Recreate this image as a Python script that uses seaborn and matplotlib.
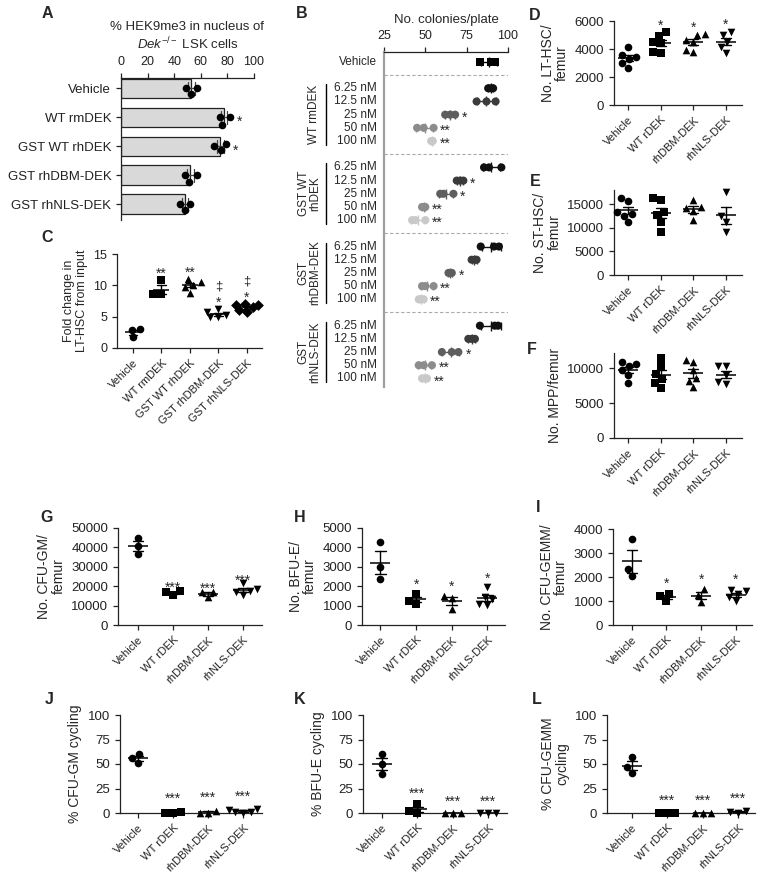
import numpy as np
import pandas as pd
import matplotlib
matplotlib.use("Agg")
from matplotlib import pyplot as plt
from matplotlib import transforms
import seaborn as sns

# ---- panel A: % H3K9me3 in nucleus ----
a_groups = ["Vehicle", "WT rmDEK", "GST WT rhDEK", "GST rhDBM-DEK", "GST rhNLS-DEK"]
a_values = [[49, 53, 57], [74.5, 82, 76], [70, 75, 79], [48, 51, 57], [44, 48, 52]]
a_stars = ["", "*", "*", "", ""]

# ---- panel B: colonies/plate by dose ----
b_conc = ["6.25 nM", "12.5 nM", "25 nM", "50 nM", "100 nM"]
b_groups = ["WT rmDEK", "GST WT\nrhDEK", "GST\nrhDBM-DEK", "GST\nrhNLS-DEK"]
b_shades = ["#111111", "#3b3b3b", "#5e5e5e", "#8c8c8c", "#c9c9c9"]
b_vehicle = [83, 90, 92]
b_wt_rm = [[88, 89.5, 91], [81, 87, 92.5], [62, 65, 68], [45, 49, 55], [53.5, 54, 54.5]]
b_gst_wt = [[85.5, 88.5, 96], [69, 71, 73], [59, 61, 67], [48, 49, 50], [42, 44, 50]]
b_dbm = [[83.5, 91.5, 94.5], [78, 80, 81], [64, 65, 66], [48, 50, 55], [46, 47.5, 49]]
b_nls = [[83, 92, 94], [76, 78, 80], [60, 66, 70], [46, 49, 54], [48, 49.5, 51]]
b_stars = [["", "", "*", "**", "**"], ["", "*", "*", "**", "**"],
           ["", "", "*", "**", "**"], ["", "", "*", "**", "**"]]

# ---- panel C: fold change LT-HSC ----
c_groups = ["Vehicle", "WT rmDEK", "GST WT rhDEK", "GST rhDBM-DEK", "GST rhNLS-DEK"]
c_values = [[3.0, 2.9, 1.7], [10.8, 8.6, 8.6], [11.0, 10.5, 10.1, 9.8, 8.8],
            [6.2, 5.7, 5.3, 5.0, 4.9], [7.0, 6.9, 6.8, 6.5, 6.0, 5.8]]
c_stars = ["", "**", "**", "*", "*"]
c_daggers = ["", "", "", "\u2021", "\u2021"]

# ---- panels D-L ----
dek_groups = ["Vehicle", "WT rDEK", "rhDBM-DEK", "rhNLS-DEK"]
d_values = [[4120, 3570, 3450, 3260, 2980, 2620], [5190, 4930, 4520, 4400, 3810, 3690],
            [5050, 5000, 4640, 4500, 3930, 3810], [5240, 5000, 4520, 4170, 3740]]
e_values = [[16400, 15700, 13300, 12900, 12600, 11200], [16300, 15800, 13300, 12700, 11300, 9200],
            [15900, 14300, 14100, 13600, 11600], [17600, 12600, 11300, 9100]]
f_values = [[10900, 10600, 10300, 9700, 9000, 7900], [11500, 10300, 9200, 8400, 7900, 7200],
            [11200, 10900, 9700, 8600, 8200, 7300], [10400, 10300, 9000, 8000, 7800]]
g_values = [[45000, 40500, 36500], [17500, 16800, 15300], [17200, 16800, 14300],
            [21500, 18500, 17500, 17000, 15500]]
h_values = [[4300, 3000, 2350], [1600, 1250, 1100], [1500, 1400, 850],
            [1950, 1450, 1350, 1100, 1050]]
i_values = [[3600, 2330, 2040], [1300, 1200, 1000], [1480, 1250, 950],
            [1450, 1400, 1300, 1150, 1000]]
j_values = [[60, 56, 51], [1.5, 0.5, 0.5], [2.5, 0.5, 0.3], [4, 3, 1.5, 1, 0.5]]
k_values = [[60, 50, 40], [9, 2, 0.5], [0.3, 0.3, 0.3], [0.5, 0.3, 0.2]]
l_values = [[57, 47, 41], [0.3, 0.3, 0.3], [0.3, 0.3, 0.3], [2, 1, 0.5]]
one_star = ["", "*", "*", "*"]
three_stars = ["", "***", "***", "***"]

W, H = 767, 889
STAR_FS = 10

sns.set_style("ticks")
plt.rcParams.update({
    "font.family": ["Liberation Sans", "DejaVu Sans"],
    "font.size": 9,
    "axes.linewidth": 0.9,
    "axes.edgecolor": "#222222",
    "xtick.major.size": 3.5,
    "ytick.major.size": 3.5,
    "xtick.major.width": 0.9,
    "ytick.major.width": 0.9,
    "xtick.color": "#222222",
    "ytick.color": "#222222",
    "xtick.labelsize": 9,
    "ytick.labelsize": 9,
    "mathtext.fontset": "custom",
    "mathtext.rm": "Liberation Sans",
    "mathtext.it": "Liberation Sans:italic",
})


def add_ax(fig, left, top, right, bottom):
    return fig.add_axes([left / W, 1 - bottom / H, (right - left) / W, (bottom - top) / H])


def long_df(groups, values):
    return pd.DataFrame({
        "group": np.repeat(groups, [len(v) for v in values]),
        "value": np.concatenate(values),
    })


def dot_panel(ax, groups, values, markers, ylim, yticks, ylabel, xlim,
              stars=None, star_off=0.0, mean_w=14, tick_fs=9.5, label_fs=10):
    df = long_df(groups, values)
    for g, m in zip(groups, markers):
        sns.swarmplot(data=df[df.group == g], x="group", y="value", order=groups,
                      marker=m, color="black", size=5.5, ax=ax, clip_on=False)
    sns.pointplot(data=df, x="group", y="value", order=groups, errorbar="se",
                  capsize=0.3, color="black", marker="_", markersize=mean_w,
                  markeredgewidth=1.1, linestyle="none", linewidth=1.0,
                  err_kws={"linewidth": 1.0}, ax=ax)
    if stars:
        for i, (v, s) in enumerate(zip(values, stars)):
            if s:
                ax.text(i, max(v) + star_off, s, ha="center", va="center", fontsize=STAR_FS)
    ax.set_ylim(*ylim)
    ax.set_yticks(yticks)
    ax.set_xlim(*xlim)
    ax.set_xlabel("")
    ax.set_ylabel(ylabel, fontsize=label_fs, linespacing=1.05)
    ax.tick_params(axis="x", labelsize=8)
    ax.tick_params(axis="y", labelsize=tick_fs)
    for lbl in ax.get_xticklabels():
        lbl.set_rotation(45)
        lbl.set_ha("right")
        lbl.set_rotation_mode("anchor")
    sns.despine(ax=ax)


fig = plt.figure(figsize=(W / 100, H / 100), dpi=100)

# ---------- A ----------
ax = add_ax(fig, 121, 78, 254, 220)
df_a = long_df(a_groups, a_values)
sns.barplot(data=df_a, x="value", y="group", order=a_groups, orient="h", errorbar="se",
            capsize=0.45, color="#d9d9d9", saturation=1, edgecolor="#222222", linewidth=0.9,
            width=0.67, err_kws={"linewidth": 0.9, "color": "#444444"}, ax=ax)
sns.swarmplot(data=df_a, x="value", y="group", order=a_groups, orient="h",
              color="black", size=5.5, ax=ax)
for i, (v, s) in enumerate(zip(a_values, a_stars)):
    if s:
        ax.text(max(v) + 7, i + 0.15, s, ha="center", va="center", fontsize=STAR_FS)
ax.xaxis.tick_top()
ax.xaxis.set_label_position("top")
ax.set_xlim(0, 100)
ax.set_xticks(range(0, 101, 20))
ax.set_ylim(4.55, -0.36)
ax.set_ylabel("")
ax.set_xlabel("% HEK9me3 in nucleus of\n$\\it{Dek}^{-/-}$ LSK cells", fontsize=9.5, labelpad=5)
ax.tick_params(axis="y", labelsize=9.5)
ax.tick_params(axis="x", labelsize=9)
ax.spines["right"].set_visible(False)
ax.spines["bottom"].set_visible(False)

# ---------- B ----------
ax = add_ax(fig, 384, 52, 508, 387)
b_sets = [b_wt_rm, b_gst_wt, b_dbm, b_nls]
rows, vals, shades = [], [], []
for gi, group_vals in enumerate(b_sets):
    for ci, pts in enumerate(group_vals):
        r = 2 + 6 * gi + ci
        rows += [r] * len(pts)
        vals += pts
        shades += [b_conc[ci]] * len(pts)
df_b = pd.DataFrame({"row": rows, "value": vals, "conc": shades})
df_bv = pd.DataFrame({"row": [0] * len(b_vehicle), "value": b_vehicle})
stats = df_b.groupby("row")["value"].agg(["mean", "std"]).reset_index()
stats["conc"] = [b_conc[(r - 2) % 6] for r in stats["row"]]
vstats = df_bv["value"].agg(["mean", "std"])
ax.errorbar(vstats["mean"], 0, xerr=vstats["std"], fmt="|", color="black",
            capsize=3, markersize=7, elinewidth=1, zorder=2)
for _, st in stats.iterrows():
    c = b_shades[b_conc.index(st["conc"])]
    ax.errorbar(st["mean"], st["row"], xerr=st["std"], fmt="|", color=c,
                capsize=3, markersize=7, elinewidth=1, zorder=2)
sns.scatterplot(data=df_bv, x="value", y="row", marker="s", color="black", s=34,
                linewidth=0, ax=ax, zorder=3)
sns.scatterplot(data=df_b, x="value", y="row", hue="conc", hue_order=b_conc,
                palette=dict(zip(b_conc, b_shades)), s=34, linewidth=0, legend=False,
                ax=ax, zorder=3)
for gi, group_vals in enumerate(b_sets):
    for ci, pts in enumerate(group_vals):
        r = 2 + 6 * gi + ci
        s = b_stars[gi][ci]
        if s:
            edge = max(max(pts), np.mean(pts) + np.std(pts, ddof=1))
            ax.text(edge + 4, r + 0.22, s, ha="left", va="center", fontsize=STAR_FS)
for sep in [1, 7, 13, 19]:
    ax.axhline(sep, color="#aaaaaa", lw=0.8, ls=(0, (3, 2)))
tr = transforms.blended_transform_factory(ax.transAxes, ax.transData)
ax.text(-0.056, 0, "Vehicle", transform=tr, ha="right", va="center", fontsize=8.5)
for gi, gname in enumerate(b_groups):
    r0 = 2 + 6 * gi
    for ci, cname in enumerate(b_conc):
        ax.text(-0.056, r0 + ci, cname, transform=tr, ha="right", va="center", fontsize=8.5)
    ax.plot([-0.47, -0.47], [r0 - 0.3, r0 + 4.3], transform=tr, color="black",
            lw=1, clip_on=False)
    xpos = -0.6 if "\n" in gname else -0.565
    ax.text(xpos, r0 + 2, gname, transform=tr, rotation=90, ha="center", va="center",
            fontsize=8.5, linespacing=1.0, multialignment="center")
ax.set_xlim(25, 100)
ax.set_xticks([25, 50, 75, 100])
ax.set_ylim(24.65, -0.75)
ax.set_yticks([])
ax.set_ylabel("")
ax.xaxis.tick_top()
ax.xaxis.set_label_position("top")
ax.set_xlabel("No. colonies/plate", fontsize=9.5, labelpad=5)
ax.tick_params(axis="x", labelsize=9)
ax.spines["right"].set_visible(False)
ax.spines["bottom"].set_visible(False)
ax.spines["left"].set_color("#a0a0a0")
ax.spines["left"].set_linewidth(1.6)

# ---------- C ----------
ax = add_ax(fig, 117, 254, 262, 348)
dot_panel(ax, c_groups, c_values, ["o", "s", "^", "v", "D"], (0, 15), [0, 5, 10, 15],
          "Fold change in\nLT-HSC from input", (-0.56, 4.53), mean_w=12,
          tick_fs=9, label_fs=9)
for i, v in enumerate(c_values):
    if c_stars[i]:
        ax.text(i, max(v) + 1.0, c_stars[i], ha="center", va="center", fontsize=STAR_FS)
    if c_daggers[i]:
        ax.text(i, max(v) + 3.6, c_daggers[i], ha="center", va="center", fontsize=9.5)

# ---------- D, E, F ----------
ax = add_ax(fig, 614, 21, 742, 105)
dot_panel(ax, dek_groups, d_values, ["o", "s", "^", "v"], (0, 6000), [0, 2000, 4000, 6000],
          "No. LT-HSC/\nfemur", (-0.43, 3.49), stars=one_star, star_off=480)
ax = add_ax(fig, 614, 190, 742, 275)
dot_panel(ax, dek_groups, e_values, ["o", "s", "^", "v"], (0, 18000), [0, 5000, 10000, 15000],
          "No. ST-HSC/\nfemur", (-0.43, 3.49))
ax = add_ax(fig, 614, 353, 742, 438)
dot_panel(ax, dek_groups, f_values, ["o", "s", "^", "v"], (0, 12200), [0, 5000, 10000],
          "No. MPP/femur", (-0.43, 3.49))

# ---------- G, H, I ----------
ax = add_ax(fig, 118, 528, 262, 625)
dot_panel(ax, dek_groups, g_values, ["o", "s", "^", "v"], (0, 50000),
          [0, 10000, 20000, 30000, 40000, 50000], "No. CFU-GM/\nfemur", (-0.57, 3.54),
          stars=three_stars, star_off=1500)
ax = add_ax(fig, 362, 528, 505, 625)
dot_panel(ax, dek_groups, h_values, ["o", "s", "^", "v"], (0, 5000),
          [0, 1000, 2000, 3000, 4000, 5000], "No. BFU-E/\nfemur", (-0.52, 3.5),
          stars=one_star, star_off=450)
ax = add_ax(fig, 613, 529, 752, 625)
dot_panel(ax, dek_groups, i_values, ["o", "s", "^", "v"], (0, 4000),
          [0, 1000, 2000, 3000, 4000], "No. CFU-GEMM/\nfemur", (-0.54, 3.47),
          stars=one_star, star_off=420)

# ---------- J, K, L ----------
ax = add_ax(fig, 120, 715, 262, 813)
dot_panel(ax, dek_groups, j_values, ["o", "s", "^", "v"], (0, 100), [0, 25, 50, 75, 100],
          "% CFU-GM cycling", (-0.52, 3.54), stars=three_stars, star_off=13)
ax = add_ax(fig, 363, 715, 507, 813)
dot_panel(ax, dek_groups, k_values, ["o", "s", "^", "v"], (0, 100), [0, 25, 50, 75, 100],
          "% BFU-E cycling", (-0.53, 3.53), stars=three_stars, star_off=11)
ax = add_ax(fig, 607, 715, 755, 813)
dot_panel(ax, dek_groups, l_values, ["o", "s", "^", "v"], (0, 100), [0, 25, 50, 75, 100],
          "% CFU-GEMM\ncycling", (-0.7, 3.47), stars=three_stars, star_off=12)

# panel letters
for letter, x, y in [("A", 47, 14), ("B", 302, 14), ("C", 47, 238), ("D", 535, 15),
                     ("E", 535, 182), ("F", 532, 350), ("G", 47, 517), ("H", 300, 517),
                     ("I", 538, 507), ("J", 49, 699), ("K", 300, 699), ("L", 537, 699)]:
    fig.text(x / W, 1 - y / H, letter, fontsize=11.5, fontweight="bold", ha="center", va="center")

fig.savefig("out.png", dpi=100)
